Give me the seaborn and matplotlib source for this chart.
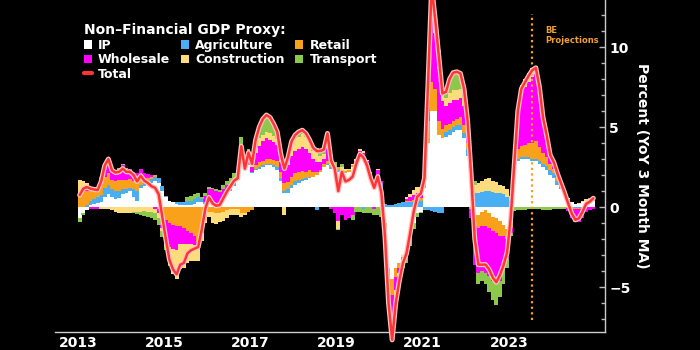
import numpy as np
import pandas as pd
import matplotlib
matplotlib.use("Agg")
import matplotlib.pyplot as plt
import matplotlib.patheffects as pe
from matplotlib.patches import Patch
from matplotlib.lines import Line2D
from matplotlib.ticker import MultipleLocator
import seaborn as sns

# monthly contributions, Jan 2013 - Dec 2024 (one row per year)
ip = [
    -0.7, -0.4, -0.2, 0.15, 0.2, 0.25, 0.3, 0.6, 0.8, 0.6, 0.5, 0.55,
    0.8, 0.9, 1.0, 0.6, 0.4, 1.2, 1.3, 1.4, 1.5, 1.6, 1.5, 1.0,
    0.6, 0.4, 0.3, 0.2, 0.15, 0.1, 0.1, 0.1, 0.2, 0.3, 0.3, 0.2,
    0.25, 0.2, 0.15, 0.2, 0.35, 0.8, 1.0, 1.3, 1.7, 3.2, 2.3, 2.6,
    2.1, 2.3, 2.4, 2.5, 2.6, 2.6, 2.5, 2.3, 1.6, 0.85, 0.9, 1.2,
    1.4, 1.5, 1.6, 1.7, 1.8, 1.9, 2.0, 2.2, 2.5, 2.6, 2.4, 2.3,
    2.2, 2.1, 2.1, 2.2, 2.5, 2.7, 3.0, 2.9, 2.5, 1.8, 1.2, 1.7,
    1.2, -1.0, -3.8, -4.5, -3.8, -3.5, -3.0, -2.6, -1.9, -1.0, -0.4, -0.3,
    1.2, 4.0, 6.0, 6.0, 4.5, 4.3, 4.4, 4.5, 4.7, 4.8, 4.8, 4.3,
    3.2, 1.6, -0.6, -0.5, -0.3, -0.2, -0.4, -0.6, -0.7, -0.9, -1.1, -1.4,
    -1.0, 1.8, 2.9, 3.0, 3.0, 3.0, 2.9, 2.9, 2.7, 2.5, 2.3, 2.0,
    1.8, 1.4, 1.1, 0.8, 0.4, 0.3, 0.2, 0.2, 0.3, 0.35, 0.35, 0.4,
]
agriculture = [
    0.0, 0.0, 0.1, 0.2, 0.3, 0.35, 0.45, 0.6, 0.6, 0.5, 0.5, 0.45,
    0.3, 0.25, 0.2, 0.5, 0.6, 0.2, 0.2, 0.2, 0.25, 0.3, 0.3, 0.3,
    0.1, 0.0, 0.0, 0.1, 0.15, 0.2, 0.3, 0.3, 0.3, 0.3, 0.2, 0.1,
    0.0, 0.0, 0.05, 0.05, 0.1, 0.1, 0.2, 0.2, 0.2, 0.0, 0.1, 0.1,
    0.1, 0.1, 0.1, 0.1, 0.1, 0.1, 0.15, 0.2, 0.2, 0.15, 0.2, 0.2,
    0.2, 0.2, 0.15, 0.1, 0.1, 0.0, -0.2, 0.0, 0.0, 0.1, 0.1, 0.0,
    0.1, 0.1, 0.05, 0.0, 0.0, 0.0, 0.0, -0.1, 0.0, 0.2, 0.3, 0.2,
    0.3, 0.2, 0.1, 0.1, 0.2, 0.25, 0.3, 0.3, 0.3, 0.3, 0.35, 0.35,
    -0.1, -0.2, -0.25, -0.3, -0.4, -0.35, 0.3, 0.3, 0.3, 0.3, 0.3, 0.3,
    0.4, 0.5, 0.85, 0.9, 0.95, 1.0, 1.0, 0.95, 0.9, 0.85, 0.8, 0.6,
    0.4, 0.1, 0.1, 0.1, 0.1, 0.1, 0.1, 0.1, 0.15, 0.2, 0.25, 0.3,
    0.3, 0.25, 0.2, 0.15, 0.1, 0.0, -0.05, -0.05, 0.0, 0.05, 0.05, 0.05,
]
retail = [
    0.8, 1.0, 0.9, 0.8, 0.75, 0.65, 0.8, 0.7, 0.7, 0.6, 0.65, 0.7,
    0.6, 0.55, 0.55, 0.5, 0.55, 0.4, 0.3, 0.2, 0.15, 0.1, -0.1, -0.3,
    -0.8, -1.0, -1.1, -1.2, -1.2, -1.3, -1.5, -1.6, -1.8, -2.2, -1.4, -0.6,
    -0.3, -0.3, -0.35, -0.35, -0.3, -0.2, -0.1, -0.1, -0.1, -0.4, -0.4, -0.3,
    -0.2, 0.2, 0.3, 0.3, 0.3, 0.3, 0.3, 0.35, 0.4, 0.5, 0.45, 0.5,
    0.5, 0.5, 0.5, 0.4, 0.4, 0.3, 0.2, 0.1, 0.2, 0.2, 0.1, 0.1,
    0.2, 0.1, 0.1, 0.1, 0.1, 0.1, 0.1, 0.1, 0.1, 0.1, 0.0, 0.1,
    0.0, -0.3, -0.7, -1.0, -0.6, -0.3, 0.0, 0.1, 0.1, 0.15, 0.15, 0.2,
    0.6, 1.4, 1.8, 1.4, 0.9, 0.6, 0.4, 0.4, 0.4, 0.4, 0.5, 0.5,
    0.4, -0.1, -0.6, -0.8, -0.9, -1.0, -0.9, -0.9, -0.9, -0.9, -0.7, -0.6,
    -0.3, 0.3, 0.6, 0.7, 0.8, 0.9, 1.0, 1.1, 0.9, 0.7, 0.6, 0.4,
    0.3, 0.2, 0.1, 0.05, -0.05, -0.1, -0.1, -0.1, -0.1, 0.0, 0.0, 0.0,
]
wholesale = [
    0.0, 0.2, 0.4, -0.15, -0.15, -0.15, 0.3, 0.6, 0.9, 0.6, 0.55, 0.6,
    0.9, 0.7, 0.6, 0.6, 0.6, 0.6, 0.3, 0.25, 0.1, -0.1, -0.3, -1.0,
    -1.0, -1.5, -1.5, -1.5, -1.1, -1.0, -0.8, -0.7, -0.6, -0.4, -0.2, 0.4,
    0.9, 0.9, 0.8, 0.7, 0.7, 0.5, 0.3, 0.2, 0.1, 0.2, 0.2, 0.5,
    0.3, 0.8, 1.0, 1.2, 1.3, 1.2, 1.1, 1.0, 0.6, 1.0, 1.1, 1.3,
    1.4, 1.4, 1.5, 1.4, 1.1, 0.8, 0.6, 0.5, 0.3, 0.8, -0.1, -0.4,
    -0.9, -0.5, -0.8, -0.7, -0.5, 0.1, 0.4, 0.4, 0.3, 0.0, -0.1, 0.3,
    0.1, -0.2, -0.7, -1.3, -0.8, -0.3, 0.0, 0.1, 0.2, 0.3, 0.4, 0.4,
    0.2, 2.0, 4.5, 3.5, 3.2, 1.7, 1.2, 1.3, 1.3, 1.2, 1.2, 1.2,
    0.8, -0.6, -2.4, -2.8, -2.8, -2.9, -3.0, -3.1, -3.2, -2.8, -2.1, -1.2,
    -0.3, 0.5, 2.2, 3.3, 3.6, 3.8, 4.1, 4.2, 3.7, 2.3, 1.5, 0.7,
    0.5, 0.3, 0.15, 0.0, -0.2, -0.6, -0.8, -0.8, -0.6, -0.3, -0.2, -0.1,
]
construction = [
    0.9, 0.4, 0.1, 0.1, 0.0, 0.0, -0.1, -0.1, -0.1, -0.2, -0.3, -0.35,
    -0.4, -0.4, -0.35, -0.3, -0.3, -0.3, -0.25, -0.3, -0.3, -0.3, -0.3, -0.2,
    -0.7, -1.1, -1.6, -1.8, -1.6, -1.5, -1.2, -1.1, -1.0, -0.8, -0.5, -0.4,
    -0.35, -0.7, -0.7, -0.6, -0.55, -0.5, -0.4, -0.4, -0.4, -0.2, -0.1, 0.0,
    0.1, 0.3, 0.5, 0.4, 0.4, 0.4, 0.4, 0.4, 0.4, -0.5, 0.3, 0.7,
    0.8, 0.8, 0.8, 0.8, 0.7, 0.5, 0.6, 0.4, 0.3, 0.5, 0.1, 0.1,
    -0.45, 0.2, 0.1, 0.1, 0.1, 0.1, 0.1, 0.1, 0.05, 0.1, 0.2, 0.1,
    0.0, -0.1, -0.4, -0.8, -0.5, -0.2, -0.1, 0.1, 0.2, 0.3, 0.35, 0.3,
    0.0, 0.5, 1.2, 0.7, 0.7, 0.5, 0.5, 0.6, 0.6, 0.6, 0.6, 0.5,
    0.4, 0.3, 0.5, 0.6, 0.7, 0.75, 0.8, 0.7, 0.65, 0.55, 0.5, 0.5,
    0.3, 0.1, 0.3, 0.5, 0.5, 0.55, 0.6, 0.5, 0.2, 0.1, 0.05, 0.0,
    0.0, 0.05, 0.05, 0.05, 0.05, 0.0, 0.0, 0.05, 0.1, 0.1, 0.1, 0.1,
]
transport = [
    -0.25, -0.1, 0.0, 0.0, 0.0, 0.0, 0.0, 0.05, 0.05, 0.1, 0.1, 0.15,
    0.1, 0.05, 0.0, -0.1, -0.15, -0.2, -0.3, -0.35, -0.4, -0.4, -0.4, -0.4,
    -0.2, -0.1, 0.0, 0.0, 0.0, 0.0, 0.2, 0.3, 0.3, 0.3, 0.15, 0.2,
    0.1, 0.1, 0.1, 0.1, 0.2, 0.25, 0.3, 0.4, 0.3, 1.0, 0.3, 0.4,
    0.2, 0.5, 0.7, 1.0, 1.05, 1.0, 0.75, 0.45, 0.1, 0.4, 0.15, 0.2,
    0.1, 0.2, 0.25, 0.3, 0.2, 0.2, 0.3, 0.3, 0.3, 0.4, 0.3, 0.3,
    -0.1, 0.2, 0.05, 0.0, -0.3, -0.3, -0.3, -0.3, -0.35, -0.4, -0.4, -0.5,
    -0.6, -0.5, -0.5, -0.8, -0.5, -0.55, -0.7, -0.9, -0.55, -0.35, -0.2, -0.1,
    -0.1, 0.2, 0.55, 0.4, 0.5, 0.35, 0.4, 0.9, 1.1, 1.15, 0.95, 0.6,
    0.2, 0.3, 0.25, -0.7, -0.6, -0.7, -1.0, -1.2, -1.3, -1.0, -0.9, -0.6,
    -0.2, -0.25, -0.2, -0.2, -0.2, -0.15, -0.15, -0.1, -0.15, -0.2, -0.2, -0.2,
    -0.1, -0.1, -0.1, -0.1, 0.0, 0.0, 0.0, 0.0, 0.0, 0.0, 0.05, 0.1,
]
total = [
    0.75, 1.15, 1.25, 1.15, 1.1, 1.06, 1.6, 2.6, 3.0, 2.3, 2.15, 2.2,
    2.4, 2.2, 2.2, 2.0, 1.6, 1.95, 1.65, 1.5, 1.3, 1.2, 0.8, -0.6,
    -2.0, -3.3, -3.9, -4.2, -3.6, -3.5, -2.9, -2.7, -2.6, -2.5, -1.4, -0.1,
    0.6, 0.23, 0.08, 0.13, 0.54, 0.96, 1.3, 1.65, 1.8, 3.8, 2.4, 3.4,
    2.7, 4.2, 5.0, 5.5, 5.75, 5.6, 5.2, 4.7, 3.3, 2.4, 3.1, 4.1,
    4.5, 4.7, 4.8, 4.6, 4.2, 3.7, 3.5, 3.5, 3.6, 4.6, 2.9, 2.4,
    1.0, 2.2, 1.6, 1.7, 1.9, 2.7, 3.3, 3.1, 2.6, 1.8, 1.2, 1.9,
    0.9, -1.8, -6.0, -8.3, -6.0, -4.6, -3.5, -2.9, -1.65, -0.3, 0.65, 0.85,
    1.8, 7.9, 13.8, 11.7, 9.4, 7.1, 7.2, 8.0, 8.4, 8.45, 8.35, 7.4,
    5.4, 2.0, -2.0, -3.6, -3.6, -3.6, -3.9, -4.4, -4.7, -4.25, -3.65, -2.85,
    -0.7, 2.6, 6.0, 7.4, 7.8, 8.2, 8.55, 8.7, 7.5, 5.6, 4.5, 3.25,
    2.8, 2.1, 1.5, 0.9, 0.23, -0.4, -0.8, -0.7, -0.3, 0.2, 0.33, 0.55,
]

series_names = ["IP", "Agriculture", "Retail", "Wholesale", "Construction", "Transport"]
series_colors = ["#ffffff", "#4aaef5", "#f9a11b", "#ff00ff", "#fddc7c", "#8cc84b"]
projection_start = 2023 + 6.5 / 12  # July 2023

sns.set_theme(style="dark", rc={"axes.facecolor": "black", "figure.facecolor": "black"})
plt.rcParams["font.family"] = ["DejaVu Sans"]

x = 2013 + (np.arange(len(total)) + 0.5) / 12
df = pd.DataFrame({"x": x, "IP": ip, "Agriculture": agriculture, "Retail": retail,
                   "Wholesale": wholesale, "Construction": construction,
                   "Transport": transport, "Total": total})

fig = plt.figure(figsize=(7, 3.5), dpi=100)
ax = fig.add_axes([55 / 700, 18 / 350, 550 / 700, 332 / 350])
ax.set_facecolor("black")

# stacked bars, positives up from zero and negatives down
pos_base = np.zeros(len(df))
neg_base = np.zeros(len(df))
for name, col in zip(series_names, series_colors):
    v = df[name].to_numpy()
    bottom = np.where(v >= 0, pos_base, neg_base)
    ax.bar(df["x"], v, bottom=bottom, width=1.06 / 12, color=col, linewidth=0, zorder=2)
    pos_base = pos_base + np.where(v >= 0, v, 0)
    neg_base = neg_base + np.where(v < 0, v, 0)

sns.lineplot(data=df, x="x", y="Total", ax=ax, color="#ff3535", linewidth=1.8, zorder=4)
line = ax.lines[-1]
line.set_path_effects([pe.Stroke(linewidth=3.6, foreground="#ffc4c4"), pe.Normal()])
line.set_clip_on(False)

# projections marker
ax.plot([projection_start, projection_start], [-7.05, 12.05], linestyle=(0, (1, 1.5)),
        color="#f5a21f", linewidth=1.6, zorder=3)
ax.text(projection_start + 0.31, 11.3, "BE\nProjections", color="#f0a030", fontsize=6,
        fontweight="bold", va="top", ha="left", linespacing=1.15)

ax.set_xlim(2012.47, 2025.23)
ax.set_ylim(-7.81, 12.94)
ax.set_xticks([2013, 2015, 2017, 2019, 2021, 2023])
ax.set_xticklabels(["2013", "2015", "2017", "2019", "2021", "2023"])
ax.yaxis.tick_right()
ax.yaxis.set_label_position("right")
ax.set_yticks([-5, 0, 5, 10])
ax.yaxis.set_minor_locator(MultipleLocator(1))
ax.tick_params(axis="both", which="major", colors="#bbbbbb", labelcolor="white",
               labelsize=10, direction="in", length=4, width=1)
ax.tick_params(axis="y", which="minor", colors="#bbbbbb", direction="in", length=3, width=1, right=True)
ax.tick_params(axis="x", pad=3)
ax.tick_params(axis="y", pad=3)
for lab in ax.get_xticklabels() + ax.get_yticklabels():
    lab.set_fontweight("bold")
ax.set_xlabel("")
ax.set_ylabel("Percent (YoY 3 Month MA)", color="white", fontsize=10, fontweight="bold",
              rotation=270, labelpad=13)
ax.grid(False)

for side in ["left", "top"]:
    ax.spines[side].set_visible(False)
for side in ["right", "bottom"]:
    ax.spines[side].set_visible(True)
    ax.spines[side].set_color("#cccccc")
    ax.spines[side].set_linewidth(1)

# legend: fill column-wise to get the 3-column layout
order = ["IP", "Wholesale", "Total", "Agriculture", "Construction", "Retail", "Transport"]
color_map = dict(zip(series_names, series_colors))
handles = []
for name in order:
    if name == "Total":
        handles.append(Line2D([0], [0], color="#ff3535", linewidth=3))
    else:
        handles.append(Patch(facecolor=color_map[name], edgecolor="none"))
leg = ax.legend(handles, order, ncol=3, loc="upper left", bbox_to_anchor=(0.052, 0.93),
                frameon=False, title="Non\u2013Financial GDP Proxy:",
                prop={"weight": "bold", "size": 9},
                title_fontproperties={"weight": "bold", "size": 10},
                handlelength=0.65, handleheight=0.65, handletextpad=0.5,
                columnspacing=0.85, labelspacing=0.12, borderpad=0, borderaxespad=0,
                alignment="left")
for t in leg.get_texts():
    t.set_color("white")
leg.get_title().set_color("white")

fig.savefig("out.png", dpi=100, facecolor="black")
